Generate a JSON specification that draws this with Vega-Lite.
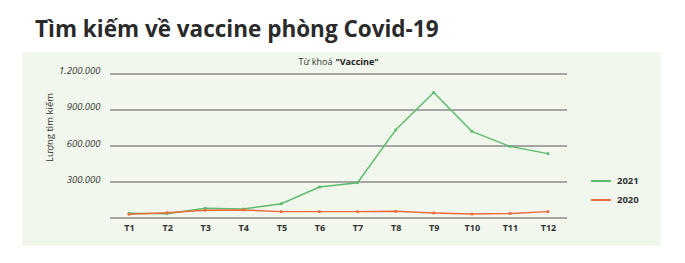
{
  "$schema": "https://vega.github.io/schema/vega-lite/v6.json",
  "width": 639,
  "height": 194,
  "autosize": {"type": "none"},
  "padding": {"left": 22, "top": 52, "right": 24, "bottom": 17},
  "background": "white",
  "config": {
    "locale": {"number": {"decimal": ",", "thousands": ".", "grouping": [3], "currency": ["", " đ"]}},
    "view": {"fill": "#f1f7ec", "stroke": null},
    "font": "Open Sans"
  },
  "title": {
    "text": "Tìm kiếm về vaccine phòng Covid-19",
    "anchor": "start",
    "fontSize": 22.5,
    "fontWeight": "bold",
    "color": "#2a2a2a",
    "font": "Open Sans",
    "offset": 14,
    "baseline": "alphabetic",
    "dx": 13,
    "dy": 21
  },
  "datasets": {
    "search": [
      {"month": 1, "year": "2021", "value": 39000},
      {"month": 2, "year": "2021", "value": 36000},
      {"month": 3, "year": "2021", "value": 81000},
      {"month": 4, "year": "2021", "value": 75000},
      {"month": 5, "year": "2021", "value": 119000},
      {"month": 6, "year": "2021", "value": 258000},
      {"month": 7, "year": "2021", "value": 294000},
      {"month": 8, "year": "2021", "value": 733000},
      {"month": 9, "year": "2021", "value": 1046000},
      {"month": 10, "year": "2021", "value": 722000},
      {"month": 11, "year": "2021", "value": 597000},
      {"month": 12, "year": "2021", "value": 536000},
      {"month": 1, "year": "2020", "value": 31000},
      {"month": 2, "year": "2020", "value": 44000},
      {"month": 3, "year": "2020", "value": 64000},
      {"month": 4, "year": "2020", "value": 67000},
      {"month": 5, "year": "2020", "value": 53000},
      {"month": 6, "year": "2020", "value": 53000},
      {"month": 7, "year": "2020", "value": 53000},
      {"month": 8, "year": "2020", "value": 56000},
      {"month": 9, "year": "2020", "value": 42000},
      {"month": 10, "year": "2020", "value": 33000},
      {"month": 11, "year": "2020", "value": 38000},
      {"month": 12, "year": "2020", "value": 53000}
    ],
    "grid": [{"v": 0}, {"v": 300000}, {"v": 600000}, {"v": 900000}, {"v": 1200000}]
  },
  "layer": [
    {
      "data": {"name": "grid"},
      "mark": {"type": "rule", "color": "#a6a6a6", "strokeWidth": 2},
      "encoding": {
        "y": {"field": "v", "type": "quantitative"},
        "x": {"datum": 0.5, "type": "quantitative"},
        "x2": {"datum": 12.5}
      }
    },
    {
      "data": {"name": "search"},
      "mark": {"type": "line", "strokeWidth": 1.4, "point": {"filled": true, "size": 7, "shape": "square"}},
      "encoding": {
        "x": {
          "field": "month",
          "type": "quantitative",
          "scale": {"domain": [-1.809, 14.967], "nice": false, "zero": false},
          "axis": {
            "values": [1, 2, 3, 4, 5, 6, 7, 8, 9, 10, 11, 12],
            "labelExpr": "'T' + datum.value",
            "domain": false,
            "ticks": false,
            "grid": false,
            "offset": -28,
            "labelPadding": 5,
            "labelFontSize": 9,
            "labelFontWeight": "bold",
            "labelColor": "#333333",
            "labelFlush": false,
            "title": null
          }
        },
        "y": {
          "field": "value",
          "type": "quantitative",
          "scale": {"domain": [-233333, 1383333], "nice": false, "zero": false},
          "axis": {
            "values": [300000, 600000, 900000, 1200000],
            "format": ",d",
            "grid": false,
            "domain": false,
            "ticks": false,
            "offset": -88,
            "labelPadding": 10,
            "labelFontSize": 9.5,
            "labelFontStyle": "italic",
            "labelColor": "#333333",
            "labelBaseline": "alphabetic",
            "title": "Lượng tìm kiếm",
            "titleFontSize": 9.5,
            "titleFontWeight": "normal",
            "titleColor": "#333333",
            "titleAngle": -90,
            "titleX": -61,
            "titleY": 75,
            "titleAlign": "center",
            "titleBaseline": "middle"
          }
        },
        "color": {
          "field": "year",
          "type": "nominal",
          "scale": {"domain": ["2021", "2020"], "range": ["#5cbb6c", "#ee6a3f"]},
          "legend": {
            "orient": "none",
            "legendX": 568,
            "legendY": 118,
            "title": null,
            "symbolType": "stroke",
            "symbolSize": 400,
            "symbolStrokeWidth": 2,
            "labelFontSize": 9.5,
            "labelFontWeight": "bold",
            "labelColor": "#333333",
            "labelOffset": 5,
            "rowPadding": 3
          }
        }
      }
    },
    {
      "data": {"values": [{}]},
      "mark": {"type": "text", "align": "right", "baseline": "middle", "fontSize": 9, "color": "#333333", "dx": -6},
      "encoding": {
        "x": {"datum": 6.5, "type": "quantitative"},
        "y": {"datum": 1300000, "type": "quantitative"},
        "text": {"value": "Từ khoá"}
      }
    },
    {
      "data": {"values": [{}]},
      "mark": {"type": "text", "align": "left", "baseline": "middle", "fontSize": 9, "fontWeight": "bold", "color": "#222222", "dx": -3},
      "encoding": {
        "x": {"datum": 6.5, "type": "quantitative"},
        "y": {"datum": 1300000, "type": "quantitative"},
        "text": {"value": "\"Vaccine\""}
      }
    }
  ]
}
